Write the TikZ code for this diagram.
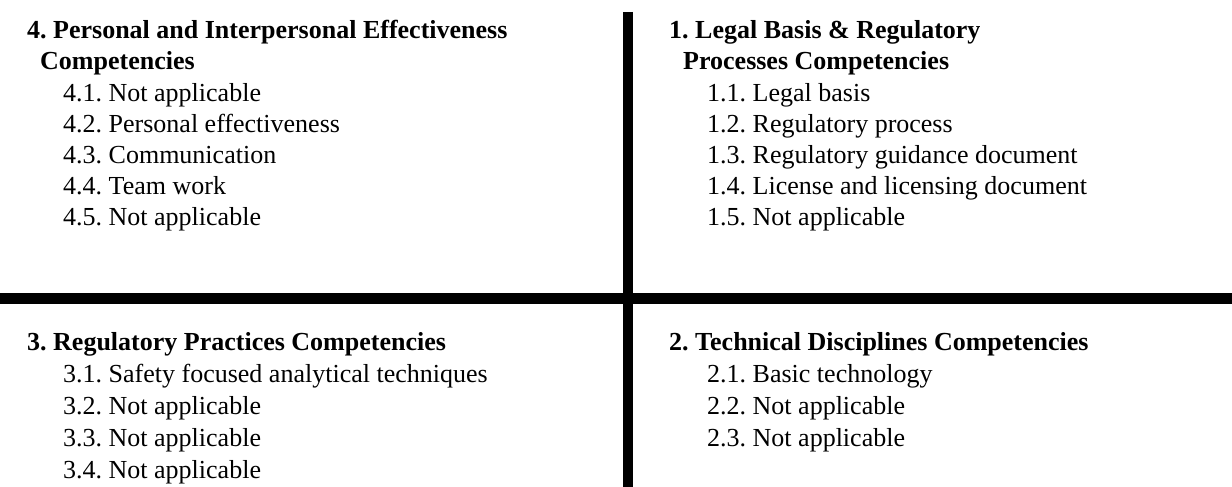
\documentclass[tikz,border=0pt]{standalone}
\usepackage{fontspec}
\setmainfont{Liberation Serif}
\usetikzlibrary{positioning, calc}
\frenchspacing

\begin{document}
\begin{tikzpicture}[x=1pt, y=-1pt]
        \tikzstyle{hd} = [anchor=base west, inner sep=0pt, font=\fontsize{26}{31}\selectfont\bfseries]
        \tikzstyle{itm} = [anchor=base west, inner sep=0pt, font=\fontsize{26}{31}\selectfont]
        \tikzstyle{bar} = [line width=10.5pt, draw=black]

        \useasboundingbox (0,0) rectangle (1232,487);

        % Cross lines
        \coordinate (vtop) at (628,12); \coordinate (vbot) at (628,487);
        \coordinate (hl) at (0,298.5); \coordinate (hr) at (1232,298.5);
        \draw [bar] (vtop) -- (vbot);
        \draw [bar] (hl) -- (hr);

        % Quadrant 4 (top left)
        \node (h4a) [hd] at (27,39) {4. Personal and Interpersonal Effectiveness};
        \node (h4b) [hd] at (40,70) {Competencies};
        \foreach \i/\t in {1/Not applicable, 2/Personal effectiveness, 3/Communication, 4/Team work, 5/Not applicable} { \node (i4\i) [itm] at (63,{70+31*\i}) {4.\i. \t}; }

        % Quadrant 1 (top right)
        \node (h1a) [hd] at (669,39) {1. Legal Basis \& Regulatory};
        \node (h1b) [hd] at (683,70) {Processes Competencies};
        \foreach \i/\t in {1/Legal basis, 2/Regulatory process, 3/Regulatory guidance document, 4/License and licensing document, 5/Not applicable} { \node (i1\i) [itm] at (707,{70+31*\i}) {1.\i. \t}; }

        % Quadrant 3 (bottom left)
        \node (h3) [hd] at (27,350) {3. Regulatory Practices Competencies};
        \foreach \i/\t in {1/Safety focused analytical techniques, 2/Not applicable, 3/Not applicable, 4/Not applicable} { \node (i3\i) [itm] at (63,{350+32*\i}) {3.\i. \t}; }

        % Quadrant 2 (bottom right)
        \node (h2) [hd] at (669,350) {2. Technical Disciplines Competencies};
        \foreach \i/\t in {1/Basic technology, 2/Not applicable, 3/Not applicable} { \node (i2\i) [itm] at (707,{350+32*\i}) {2.\i. \t}; }
    \end{tikzpicture}
\end{document}
